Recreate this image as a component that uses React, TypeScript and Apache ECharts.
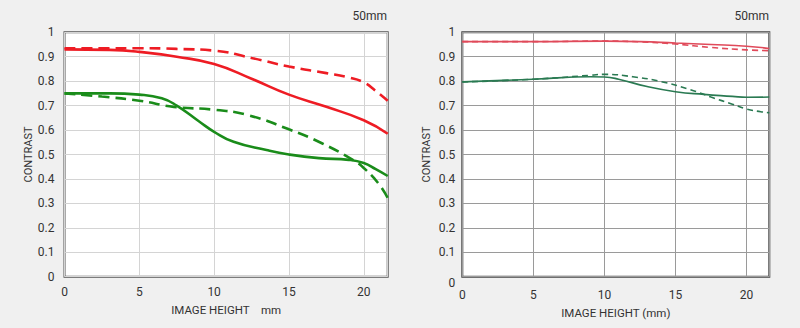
import React, { useEffect, useRef } from "react";
import * as echarts from "echarts";

// ---- data ----
const yTicks = [0, 0.1, 0.2, 0.3, 0.4, 0.5, 0.6, 0.7, 0.8, 0.9, 1];
const xMax = 21.6;

// Left chart
const L_redSolidX = [0, 3, 5, 7.5, 10, 12.5, 15, 17.5, 20, 21.6];
const L_redSolidY = [0.93, 0.928, 0.92, 0.9, 0.87, 0.81, 0.745, 0.695, 0.64, 0.585];
const L_redDashX = [0, 3, 5, 7.5, 10, 12.5, 15, 17.5, 19, 20, 20.8, 21.6];
const L_redDashY = [0.935, 0.935, 0.935, 0.932, 0.925, 0.895, 0.86, 0.833, 0.815, 0.795, 0.76, 0.72];
const L_greenSolidX = [0, 3, 5, 6.5, 7.5, 9, 10, 11.3, 13.5, 15, 17, 19, 20, 20.8, 21.6];
const L_greenSolidY = [0.75, 0.75, 0.745, 0.73, 0.7, 0.635, 0.593, 0.552, 0.518, 0.5, 0.485, 0.478, 0.465, 0.44, 0.412];
const L_greenDashX = [0, 2.5, 5, 7.3, 10, 12.2, 15, 17.2, 19.3, 20, 21, 21.6];
const L_greenDashY = [0.75, 0.737, 0.72, 0.695, 0.683, 0.662, 0.603, 0.546, 0.477, 0.445, 0.38, 0.322];

// Right chart
const R_redSolidX = [0, 5, 10, 12.5, 15, 17.5, 20, 21.6];
const R_redSolidY = [0.962, 0.962, 0.964, 0.962, 0.956, 0.95, 0.943, 0.934];
const R_redDashX = [0, 5, 10, 12.5, 15, 17.5, 20, 21.6];
const R_redDashY = [0.962, 0.962, 0.964, 0.961, 0.952, 0.938, 0.928, 0.925];
const R_greenSolidX = [0, 5, 9, 10, 11, 13, 15, 17, 19, 20, 21.6];
const R_greenSolidY = [0.797, 0.808, 0.818, 0.817, 0.808, 0.778, 0.757, 0.746, 0.738, 0.734, 0.735];
const R_greenDashX = [0, 5, 9, 10, 12, 14, 16, 17.5, 19, 20, 21, 21.6];
const R_greenDashY = [0.797, 0.808, 0.824, 0.828, 0.818, 0.798, 0.766, 0.735, 0.706, 0.686, 0.675, 0.671];

const focalLabel = "50mm";

const zip = (xs: number[], ys: number[]) => xs.map((x, i) => [x, ys[i]]);

const FONT = "Roboto, 'Liberation Sans', sans-serif";

export default function App() {
  const ref = useRef<HTMLDivElement>(null);

  useEffect(() => {
    if (!ref.current) return;
    const chart = echarts.init(ref.current, undefined, { renderer: "svg" });

    const yAxisBase = (gridIndex: number, gridColor: string, margin: number, nameGap: number, zeroPad: number) => ({
      type: "value" as const,
      gridIndex,
      min: 0,
      max: 1,
      interval: 0.1,
      name: "CONTRAST",
      nameLocation: "middle" as const,
      nameGap,
      nameRotate: 90,
      nameTextStyle: { color: "#333", fontSize: 11, fontFamily: FONT },
      axisLine: { show: false },
      axisTick: { show: false },
      axisLabel: {
        color: "#333",
        fontSize: 12,
        fontFamily: FONT,
        margin,
        formatter: (v: number) => {
          const s = yTicks.find((t) => Math.abs(t - v) < 1e-6);
          const txt = s === undefined ? "" : String(Math.round(s * 10) / 10);
          return v === 0 ? "{z|" + txt + "}" : txt;
        },
        rich: { z: { color: "#333", fontSize: 12, fontFamily: FONT, padding: [zeroPad, 0, 0, 0] } },
      },
      splitLine: { show: true, lineStyle: { color: gridColor, width: 1 } },
    });

    const xAxisBase = (gridIndex: number, gridColor: string, name: string, margin: number, nameGap: number) => ({
      type: "value" as const,
      gridIndex,
      min: 0,
      max: xMax,
      interval: 5,
      name,
      nameLocation: "middle" as const,
      nameGap,
      nameTextStyle: { color: "#333", fontSize: 11.5, fontFamily: FONT },
      axisLine: { show: false },
      axisTick: { show: false },
      axisLabel: {
        color: "#333",
        fontSize: 12,
        fontFamily: FONT,
        margin,
        showMaxLabel: false,
        formatter: (v: number) => (v % 5 === 0 ? String(v) : ""),
      },
      splitLine: { show: true, lineStyle: { color: gridColor, width: 1 } },
    });

    const line = (
      xi: number,
      data: number[][],
      color: string,
      width: number,
      dashed: boolean,
      dash: number[]
    ) => ({
      type: "line" as const,
      xAxisIndex: xi,
      yAxisIndex: xi,
      data,
      smooth: 0.5,
      showSymbol: false,
      symbol: "none",
      lineStyle: { color, width, type: dashed ? dash : "solid" },
      z: 3,
    });

    const LRED = "#ee1c24";
    const LGREEN = "#1a8c1a";
    const RRED = "#e04a5a";
    const RGREEN = "#2a7a52";

    chart.setOption({
      animation: false,
      backgroundColor: "#f0f0f0",
      grid: [
        {
          left: 64.5,
          top: 32.3,
          width: 323.2,
          height: 244.4,
          show: true,
          backgroundColor: "#ffffff",
          borderColor: "#555555",
          borderWidth: 2,
        },
        {
          left: 462.3,
          top: 32.3,
          width: 307,
          height: 244.4,
          show: true,
          backgroundColor: "#ffffff",
          borderColor: "#444444",
          borderWidth: 2,
        },
      ],
      xAxis: [
        xAxisBase(0, "#d4d4d4", "IMAGE HEIGHT    mm", 9, 27),
        xAxisBase(1, "#9a9a9a", "IMAGE HEIGHT (mm)", 12, 30),
      ],
      yAxis: [yAxisBase(0, "#d4d4d4", 10, 31, 0), yAxisBase(1, "#9a9a9a", 7, 30, 12)],
      series: [
        line(0, zip(L_redDashX, L_redDashY), LRED, 2.6, true, [11, 6]),
        line(0, zip(L_redSolidX, L_redSolidY), LRED, 2.6, false, []),
        line(0, zip(L_greenDashX, L_greenDashY), LGREEN, 2.6, true, [11, 6]),
        line(0, zip(L_greenSolidX, L_greenSolidY), LGREEN, 2.6, false, []),
        line(1, zip(R_redDashX, R_redDashY), RRED, 1.6, true, [6, 4]),
        line(1, zip(R_redSolidX, R_redSolidY), RRED, 1.6, false, []),
        line(1, zip(R_greenDashX, R_greenDashY), RGREEN, 1.6, true, [6, 4]),
        line(1, zip(R_greenSolidX, R_greenSolidY), RGREEN, 1.6, false, []),
      ],
      graphic: [
        {
          type: "text",
          right: 800 - 387,
          top: 10,
          style: { text: focalLabel, fill: "#333", fontSize: 12, fontFamily: FONT },
        },
        {
          type: "text",
          right: 800 - 769,
          top: 10,
          style: { text: focalLabel, fill: "#333", fontSize: 12, fontFamily: FONT },
        },
      ],
    });

    return () => chart.dispose();
  }, []);

  return (
    <div
      ref={ref}
      style={{ position: "fixed", left: 0, top: 0, width: 800, height: 328 }}
    />
  );
}
